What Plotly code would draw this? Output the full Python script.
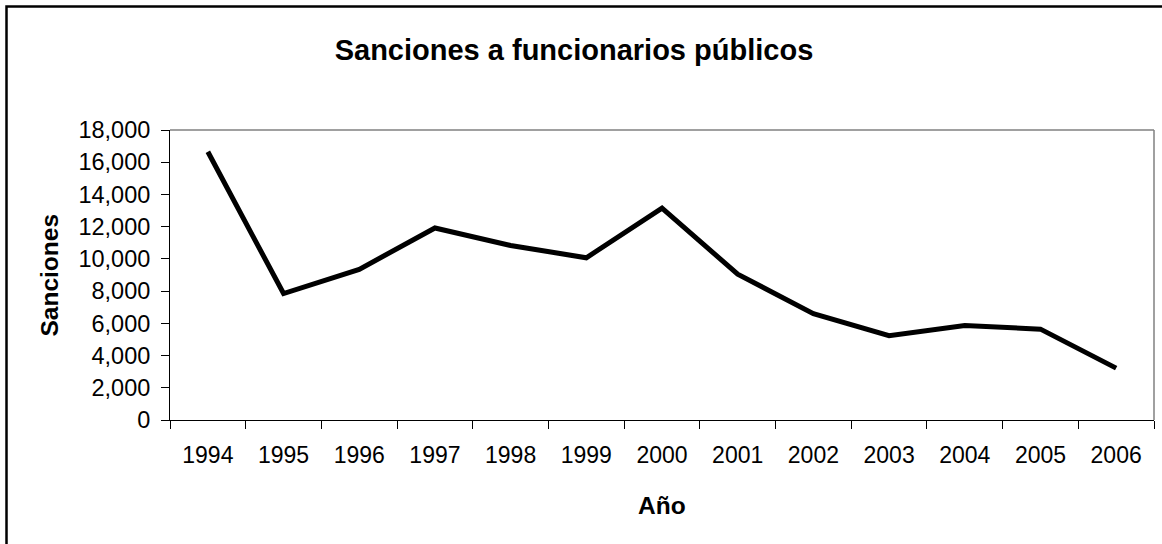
import plotly.graph_objects as go

years = ["1994", "1995", "1996", "1997", "1998", "1999", "2000",
         "2001", "2002", "2003", "2004", "2005", "2006"]
sanciones = [16650, 7850, 9350, 11920, 10830, 10070, 13150,
             9050, 6600, 5230, 5860, 5640, 3220]
y_ticks = list(range(0, 18001, 2000))
y_ticktext = [f"{v:,}" for v in y_ticks]

W, H = 1162, 544
L, R, T, B = 170, 8, 130, 124
PW, PH = W - L - R, H - T - B

def px(x):
    return (x - L) / PW

def py(y):
    return (H - B - y) / PH

FONT = "Liberation Sans, Arial, sans-serif"

fig = go.Figure()
fig.add_trace(go.Scatter(
    x=years, y=sanciones, mode="lines",
    line=dict(color="black", width=5), hoverinfo="x+y", showlegend=False,
))

fig.update_layout(
    width=W, height=H,
    margin=dict(l=L, r=R, t=T, b=B),
    paper_bgcolor="white", plot_bgcolor="white",
    font=dict(family=FONT, color="black", size=23),
    title=dict(text="<b>Sanciones a funcionarios públicos</b>",
               x=574 / W, xanchor="center",
               y=1 - 50 / H, yanchor="middle",
               font=dict(size=29, family=FONT, color="black")),
    xaxis=dict(type="category", range=[-0.5, 12.5], tickson="boundaries",
               ticks="outside", ticklen=8, tickcolor="black", tickwidth=1,
               ticklabelstandoff=14,
               showline=True, linecolor="black", linewidth=1,
               showgrid=False, zeroline=False, tickfont=dict(size=23)),
    yaxis=dict(range=[0, 18000], tickvals=y_ticks, ticktext=y_ticktext,
               ticks="outside", ticklen=8, tickcolor="black", tickwidth=1,
               ticklabelstandoff=6,
               showline=True, linecolor="black", linewidth=1,
               showgrid=False, zeroline=False, tickfont=dict(size=23.5)),
    shapes=[
        # grey plot-area border (top and right)
        dict(type="line", xref="paper", yref="paper", x0=0, x1=1, y0=1, y1=1,
             line=dict(color="#808080", width=1.5), layer="below"),
        dict(type="line", xref="paper", yref="paper", x0=1, x1=1, y0=0, y1=1,
             line=dict(color="#808080", width=1.5), layer="below"),
        # outer chart frame
        dict(type="rect", xref="paper", yref="paper",
             x0=px(6.5), x1=px(1180), y0=py(6.5), y1=py(570),
             line=dict(color="black", width=2.5)),
    ],
    annotations=[
        dict(text="<b>Año</b>", xref="paper", yref="paper",
             x=px(662), y=py(505), xanchor="center", yanchor="middle",
             showarrow=False, font=dict(size=24.5, family=FONT, color="black")),
        dict(text="<b>Sanciones</b>", xref="paper", yref="paper",
             x=px(48.5), y=py(275), xanchor="center", yanchor="middle",
             textangle=-90, showarrow=False,
             font=dict(size=24.5, family=FONT, color="black")),
    ],
)

fig.write_html("out.html")
